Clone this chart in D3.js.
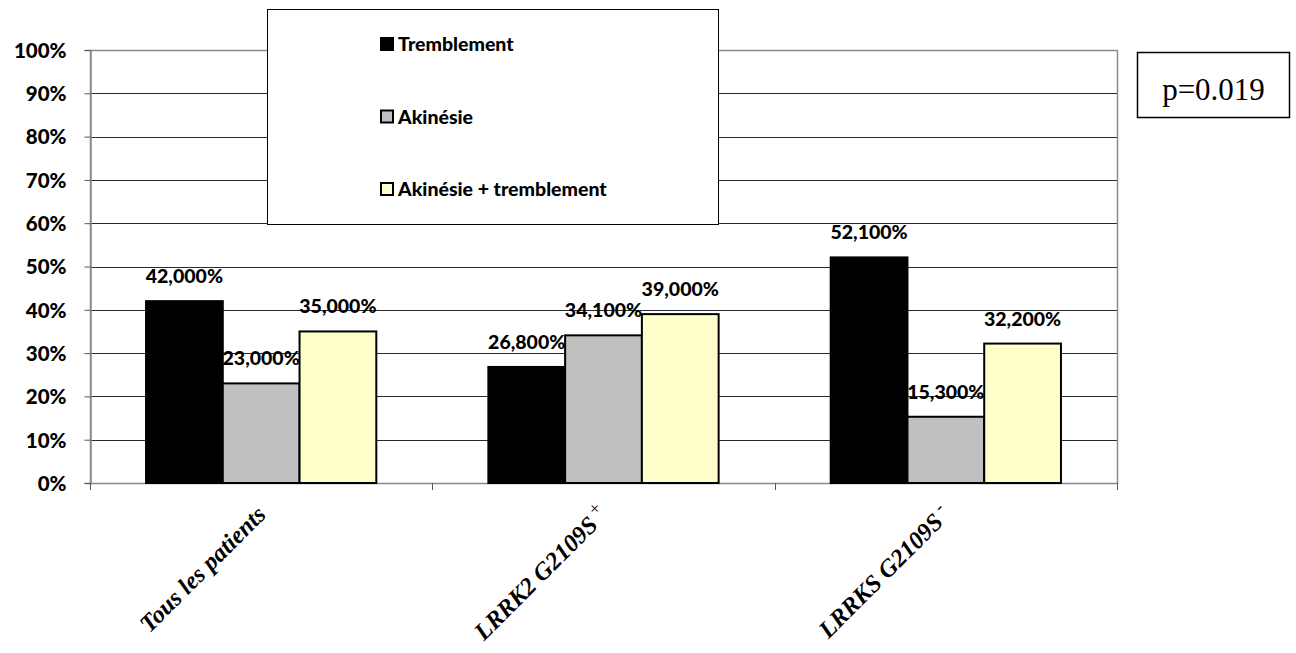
<!DOCTYPE html>
<html>
<head>
<meta charset="utf-8">
<script src="https://cdn.jsdelivr.net/npm/d3@7"></script>
<style>
  html, body { margin: 0; padding: 0; background: #fff; }
  svg { display: block; }
</style>
</head>
<body>
<svg id="chart" width="1296" height="653"></svg>
<script>
// Groups of patients shown on the x axis
const categories = ["Tous les patients", "LRRK2 G2109S", "LRRKS G2109S"];
const categorySup = ["", "+", "-"];
// Clinical forms (one bar per form in each group)
const seriesNames = ["Tremblement", "Akinésie", "Akinésie + tremblement"];
const seriesColors = ["#000000", "#c0c0c0", "#ffffcc"];
// Percentages per form, in category order
const tremblement = [42.0, 26.8, 52.1];
const akinesie = [23.0, 34.1, 15.3];
const akinesieTremblement = [35.0, 39.0, 32.2];
const seriesValues = [tremblement, akinesie, akinesieTremblement];
// Y axis ticks
const yTicks = [0, 10, 20, 30, 40, 50, 60, 70, 80, 90, 100];
const pValueText = "p=0.019";

const svg = d3.select("#chart");
const plot = { left: 90, right: 1117, top: 50, bottom: 483 };

const x0 = d3.scaleBand().domain(d3.range(categories.length))
  .range([plot.left, plot.right]).paddingInner(0).paddingOuter(0);
const x1 = d3.scaleBand().domain(d3.range(seriesNames.length))
  .range([0, x0.bandwidth()]).paddingInner(0).paddingOuter(0.73);
const y = d3.scaleLinear().domain([0, 100]).range([plot.bottom, plot.top]);

const numFont = "Lato, 'Open Sans', sans-serif";
const labelText = v => {
  const s = v.toFixed(3).split(".");
  return s[0] + "," + s[1] + "%";
};

// Gridlines
svg.append("g").selectAll("line").data(yTicks.slice(1, -1)).join("line")
  .attr("x1", plot.left).attr("x2", plot.right)
  .attr("y1", d => Math.round(y(d)) + 0.5).attr("y2", d => Math.round(y(d)) + 0.5)
  .attr("stroke", "#2a2a2a").attr("stroke-width", 1);

// Plot frame
svg.append("rect")
  .attr("x", plot.left + 0.5).attr("y", y(100) + 0.5)
  .attr("width", plot.right - plot.left).attr("height", y(0) - y(100))
  .attr("fill", "none").attr("stroke", "#8a8a8a").attr("stroke-width", 1.5);

// Y axis
const yAxis = d3.axisLeft(y).tickValues(yTicks).tickSize(6).tickPadding(18)
  .tickFormat(d => d + "%");
const gy = svg.append("g").attr("transform", `translate(${plot.left + 0.5},0)`).call(yAxis);
gy.select(".domain").attr("stroke", "#8a8a8a").attr("stroke-width", 1.5);
gy.selectAll(".tick line").attr("stroke", "#555");
gy.selectAll(".tick text")
  .attr("font-family", numFont).attr("font-weight", 900).attr("font-size", 20.5)
  .attr("fill", "#000").attr("dy", "0.36em");

// X axis (ticks between groups)
const xEdges = d3.range(categories.length + 1).map(i => i === categories.length ? plot.right : x0(i));
svg.append("g").selectAll("line").data(xEdges).join("line")
  .attr("x1", d => Math.round(d) + 0.5).attr("x2", d => Math.round(d) + 0.5)
  .attr("y1", plot.bottom).attr("y2", plot.bottom + 7)
  .attr("stroke", "#555");

// Bars
const groups = svg.append("g").selectAll("g").data(categories).join("g")
  .attr("transform", (d, i) => `translate(${x0(i)},0)`);
groups.selectAll("rect")
  .data((d, i) => seriesValues.map((vals, s) => ({ s, v: vals[i] })))
  .join("rect")
  .attr("x", d => x1(d.s)).attr("width", x1.bandwidth())
  .attr("y", d => y(d.v)).attr("height", d => y(0) - y(d.v))
  .attr("fill", d => seriesColors[d.s]).attr("stroke", "#000").attr("stroke-width", 2);

// Value labels
groups.selectAll("text")
  .data((d, i) => seriesValues.map((vals, s) => ({ s, v: vals[i] })))
  .join("text")
  .attr("x", d => x1(d.s) + x1.bandwidth() / 2).attr("y", d => y(d.v) - 18)
  .attr("text-anchor", "middle")
  .attr("font-family", numFont).attr("font-weight", 900).attr("font-size", 19.5)
  .text(d => labelText(d.v));

// Category labels, rotated
const xl = svg.append("g").selectAll("text").data(categories).join("text")
  .attr("transform", (d, i) => `translate(${x0(i) + x0.bandwidth() / 2 + 6},${plot.bottom + 33}) rotate(-45)`)
  .attr("text-anchor", "end")
  .attr("font-family", "'Liberation Serif', 'Times New Roman', serif")
  .attr("font-weight", "bold").attr("font-style", "italic").attr("font-size", 24.5);
xl.append("tspan").text(d => d);
xl.append("tspan")
  .attr("font-weight", "normal").attr("font-style", "normal").attr("font-size", 18)
  .attr("dy", "-0.55em")
  .text((d, i) => categorySup[i] ? "\u00a0" + categorySup[i] : "");

// Legend
const legend = svg.append("g");
legend.append("rect").attr("x", 267.5).attr("y", 9.5).attr("width", 451).attr("height", 215)
  .attr("fill", "#fff").attr("stroke", "#000").attr("stroke-width", 1);
const legendItems = legend.selectAll("g").data(seriesNames).join("g")
  .attr("transform", (d, i) => `translate(381,${38 + i * 72.5})`);
legendItems.append("rect").attr("x", 0).attr("y", 0).attr("width", 12).attr("height", 12)
  .attr("fill", (d, i) => seriesColors[i]).attr("stroke", "#000").attr("stroke-width", 2);
legendItems.append("text").attr("x", 17).attr("y", 13)
  .attr("font-family", numFont).attr("font-weight", 900).attr("font-size", 19.5)
  .text(d => d);

// p-value box
const pBox = svg.append("g");
pBox.append("rect").attr("x", 1137.5).attr("y", 52.5).attr("width", 152).attr("height", 65)
  .attr("fill", "#fff").attr("stroke", "#000").attr("stroke-width", 1.5);
pBox.append("text").attr("x", 1137.5 + 76).attr("y", 100)
  .attr("text-anchor", "middle")
  .attr("font-family", "'Liberation Serif', 'Times New Roman', serif").attr("font-size", 31)
  .text(pValueText);
</script>
</body>
</html>
